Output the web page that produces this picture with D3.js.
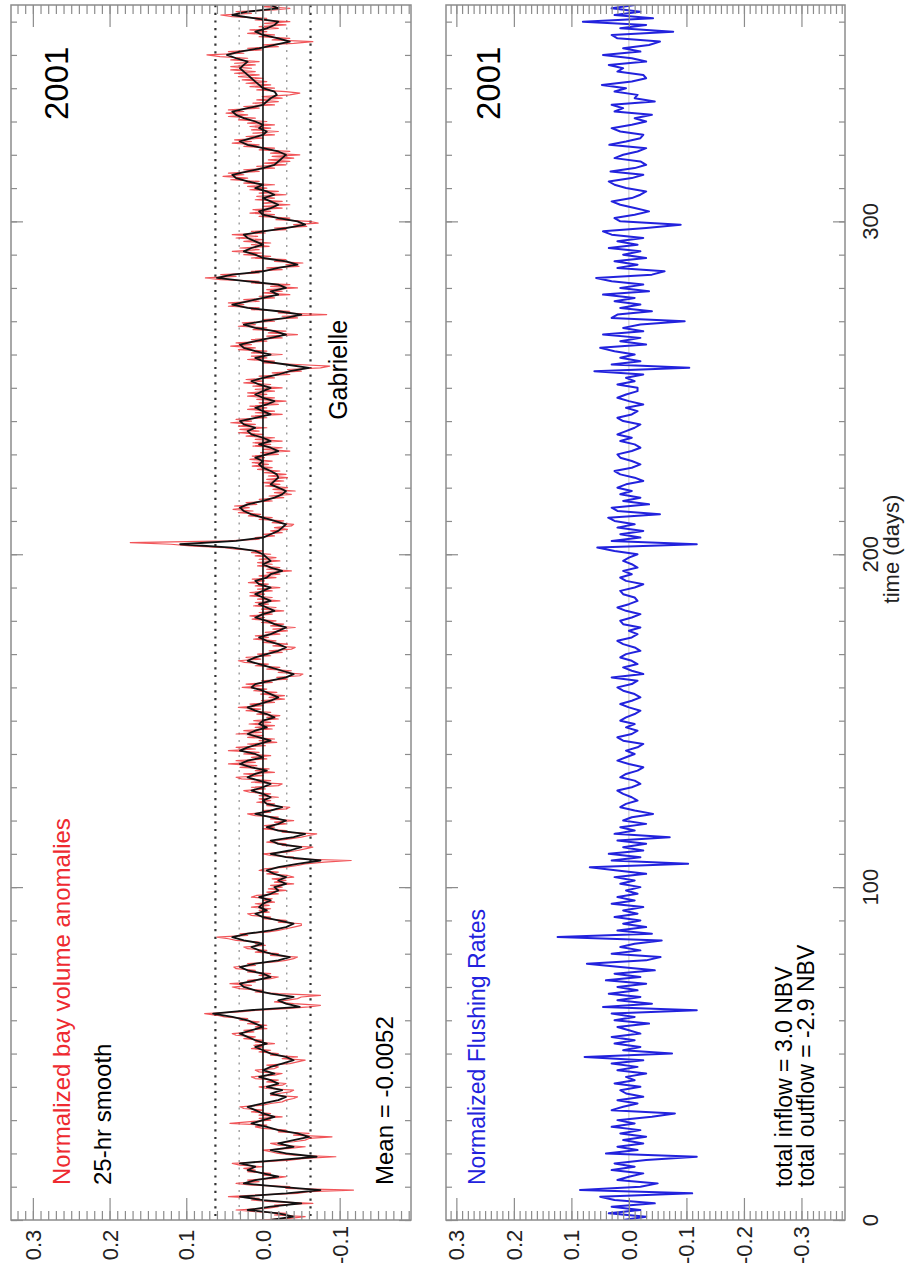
<!DOCTYPE html>
<html>
<head>
<meta charset="utf-8">
<script src="https://cdn.jsdelivr.net/npm/d3@7"></script>
<style>
  html, body { margin: 0; padding: 0; background: #fff; }
  svg { display: block; }
</style>
</head>
<body>
<svg id="chart" width="912" height="1274"></svg>
<script>
// ---------------------------------------------------------------------------
// Data (series values are stored in units of 0.001 NBV)
// ---------------------------------------------------------------------------
const MILLI = 0.001;
const year = "2001";

// 25-hr smoothed bay volume anomaly, one value per day starting at day 0
const volumeSmooth = [
  -10,-40,-20,20,-10,-50,0,30,-30,-75,
  -20,25,10,-20,0,20,10,30,-20,-70,
  -30,-10,-40,-20,-40,-60,-45,-20,-5,15,
  0,-15,0,10,20,0,-20,-30,-10,-25,
  -5,-20,-10,5,-15,0,-10,-25,-40,-30,
  -10,0,10,-5,10,20,30,15,0,10,
  20,40,65,20,-48,-30,-20,-40,-10,10,
  25,30,10,-10,0,20,30,10,-20,-35,
  -10,5,15,0,25,40,20,-10,-30,-40,
  -20,0,10,-5,5,0,-10,5,-10,-20,
  -15,-30,-20,-30,-15,-5,-20,-45,-75,-30,
  -10,-35,-50,-20,-10,-40,-55,-20,-5,-20,
  -30,-10,10,-10,-25,-5,0,-10,0,15,
  0,-10,5,20,10,-5,15,30,20,0,
  10,30,20,5,-10,5,20,10,-5,5,
  0,-15,-5,10,20,5,-10,-20,-10,0,
  15,10,-10,-30,-40,-25,-10,5,20,10,
  -5,-20,-30,-20,-5,5,-10,-20,-30,-15,
  -5,10,0,-15,-5,5,-10,0,10,0,
  -10,5,10,-5,-10,-25,-10,0,-10,-5,
  0,10,40,108,35,0,-10,-20,-25,-30,
  -15,0,15,25,30,20,0,-15,-25,-30,
  -20,-10,-15,-20,-18,-10,0,5,0,10,
  -5,-20,-10,5,-10,0,15,20,10,25,
  30,10,-10,0,10,-5,-15,0,10,0,
  -10,5,15,0,-20,-35,-60,-30,0,10,
  -10,10,25,30,10,-10,-30,-15,10,25,
  0,-30,-50,-20,20,40,20,0,-20,-10,
  -30,-20,20,60,40,0,-20,-45,-30,0,
  10,25,15,0,10,20,25,0,-30,-55,
  -45,-20,0,5,-10,-20,-10,0,-15,-5,
  10,0,20,35,40,20,0,-15,-20,-25,
  -30,-20,0,20,30,15,0,-5,5,0,
  10,25,35,40,20,0,-5,-10,-18,-15,
  0,5,10,15,20,25,30,25,20,35,
  47,30,5,-15,-35,-20,0,10,-5,-15,
  -20,10,40,20,-20,-10
];

// Unsmoothed bay volume anomaly, two values per day (every 12 h)
const volumeRaw = [
  5,-35,-55,-15,-30,10,35,-5,-20,-15,-65,-10,15,5,45,10,-45,-60,-118,-30,
  -35,15,35,5,20,-15,-30,0,-10,20,10,25,0,30,40,-5,-35,-55,-95,-40,
  -20,-10,0,-35,-55,-20,-10,-40,-55,-60,-90,-40,-60,-20,-30,0,10,-5,43,20,
  -10,5,-25,5,-10,15,0,25,30,0,-10,-25,-30,-40,-45,-10,-20,-35,-40,-5,
  5,-25,-30,-5,-20,10,15,-15,-25,5,10,-15,-20,-5,-35,-45,-55,-25,-45,-10,
  -20,5,-10,15,0,12,-15,10,0,25,10,35,40,12,25,-5,10,-5,20,5,
  30,20,50,60,76,30,10,-30,-60,-75,-40,-15,-30,-45,-50,-75,-20,10,0,30,
  40,15,43,10,20,-10,-20,5,-10,20,10,35,38,10,20,-15,-30,-40,-45,-10,
  -20,10,-5,20,25,-3,10,5,35,45,60,20,30,-5,-20,-30,-40,-50,-50,-20,
  -30,0,-10,15,20,-8,5,-10,15,-8,10,-15,0,-12,15,8,-20,-5,-30,-7,
  -25,-10,-40,-15,-30,-12,-40,-32,-5,-20,5,-2,-30,-45,-55,-80,-115,-40,-40,-10,
  0,-30,-45,-55,-65,-25,-30,-5,-20,-35,-50,-60,-70,-25,-30,0,-15,-2,-30,-15,
  -40,-10,-20,10,20,-10,0,-30,-35,-5,-15,8,-10,5,-20,5,-10,17,25,-3,
  15,-20,-25,15,-10,28,35,0,25,-15,10,-8,30,8,45,10,35,-5,15,-10,
  25,5,45,10,35,-3,20,-18,5,-15,20,0,35,2,25,-12,10,-15,18,-10,
  12,-20,-5,-22,8,-10,22,3,32,0,17,-15,2,-28,-8,-28,3,-18,12,-5,
  27,0,22,-12,2,-32,-18,-48,-52,-20,-37,-5,-22,10,-7,24,32,3,22,-10,
  7,-25,-8,-37,-42,-13,-32,0,-17,12,-7,10,-22,-3,-32,-13,-42,-10,-27,2,
  -17,14,-2,17,-12,5,-27,2,-17,12,-7,10,-22,7,-12,17,-2,17,-12,7,
  -22,10,-7,19,-2,14,-17,5,-22,-5,-37,-5,-22,7,-12,7,-22,5,-17,10,
  -10,15,0,35,50,95,120,173,45,5,10,-15,0,-25,-10,-32,-15,-37,-40,-12,
  -27,5,-12,19,3,32,13,39,18,37,8,22,-12,5,-27,-8,-37,-15,-42,-13,
  -32,-3,-22,0,-27,-5,-32,-7,-30,-2,-22,7,-12,14,-7,14,-12,17,-2,14,
  -20,3,-35,0,-25,13,-10,13,-25,10,-15,22,0,32,5,30,-5,32,10,42,
  15,35,-5,15,-25,10,-15,20,-5,17,-20,5,-30,8,-15,20,-5,20,-15,10,
  -25,13,-10,25,0,22,-15,5,-35,-12,-50,-32,-75,-87,-45,0,-15,20,-5,15,
  -25,15,-5,32,10,42,15,35,-5,15,-25,-5,-45,-7,-30,13,-5,32,10,27,
  -15,0,-45,-25,-83,-20,-35,15,5,45,25,45,5,25,-15,5,-35,0,-25,-5,
  -45,-10,-35,15,5,55,75,35,55,5,15,-25,-5,-47,-30,-52,-15,-30,15,-10,
  25,2,40,5,30,-8,15,-10,25,0,35,7,40,-3,15,-30,-15,-57,-40,-72,
  -60,-17,-35,5,-15,17,-10,13,-25,0,-35,0,-25,10,-15,8,-30,5,-20,17,
  -5,20,-15,25,5,42,20,52,25,45,5,25,-15,8,-30,-2,-35,-7,-40,-12,
  -48,-10,-35,5,-15,25,5,40,15,37,0,22,-15,13,-20,15,-10,17,-15,20,
  -5,32,10,45,20,48,25,45,5,25,-15,13,-20,8,-25,1,-35,-48,-30,8,
  -15,17,-10,22,-5,27,0,32,5,37,10,42,15,42,10,37,5,42,20,56,
  73,25,45,2,20,-20,0,-40,-65,-12,-35,5,-15,20,-5,17,-20,5,-30,-2,
  -35,10,-5,40,55,15,35,-15,-35,0,-25
];

// Normalized flushing rate, one value per day starting at day 0
const flushing = [
  10,-30,35,-20,30,-45,25,50,-110,85,
  -20,-50,20,0,-25,30,-10,25,-30,-118,
  40,-15,20,-25,10,-30,15,-20,30,-10,
  20,-40,-80,30,10,-15,20,-25,5,15,
  -20,25,-10,5,-30,20,-15,30,-25,77,
  -75,10,-20,25,-10,30,-20,0,20,-35,
  25,-10,30,-118,45,-40,20,-20,35,-15,
  20,-30,40,-20,25,-45,15,73,-30,-55,
  30,-20,15,-10,-57,124,-40,20,-30,10,
  -20,25,-15,10,-25,30,-10,20,-15,5,
  -20,15,-10,25,-30,20,68,-103,30,-20,
  35,-25,10,-30,20,-71,25,-10,15,-30,
  10,-5,-42,-10,15,5,-15,-5,10,20,
  -5,-20,-10,15,5,-15,-25,0,20,5,
  -10,5,-15,-25,10,20,-5,-15,5,-10,
  15,5,-10,-20,0,15,-5,-20,-10,10,
  20,-5,-15,30,-25,-5,10,-15,-5,15,
  5,-20,-10,10,20,-5,-15,0,-20,10,
  15,-5,-20,5,20,0,-15,-10,10,15,
  -10,-25,5,15,-5,10,-15,-5,10,0,
  -15,25,55,-118,30,-20,15,-25,20,-10,
  25,36,-54,20,30,-35,10,-20,15,-5,
  20,5,-25,-10,15,25,-5,-20,-5,15,
  20,-5,-20,-10,15,-5,20,5,-10,-20,
  10,20,-5,-15,5,-25,0,20,5,-15,
  -15,20,-10,5,-25,60,-105,30,-20,15,
  -10,25,50,-30,15,-20,45,-25,10,-20,
  -97,30,20,-40,15,-20,25,-10,45,-35,
  15,-25,30,57,-40,-62,20,-15,25,-30,
  10,-20,35,-15,20,-25,30,45,-30,-90,
  15,25,-10,-35,-10,15,30,-5,-20,-30,
  5,25,35,-5,-25,32,-10,-30,-20,25,
  10,-15,-30,34,5,-20,-25,15,30,-5,
  -30,-10,-40,25,10,30,-45,-10,-15,25,
  5,47,-5,-30,-25,20,10,35,-30,-5,
  45,-20,10,-35,-54,20,30,-77,15,-30,
  80,-42,25,-20,30,-10
];

// Reference levels around zero (one and two standard deviations)
const sigmaLevels = [0.062, 0.031, -0.031, -0.062];
const sigmaStrong = [true, false, false, true];

// Summary numbers printed on the panels
const meanVolume = -0.0052;
const totalInflow = 3.0;
const totalOutflow = -2.9;
const stormName = "Gabrielle";
const stormDay = 256;

// Axis ticks
const valueTicksA = [0.3, 0.2, 0.1, 0.0, -0.1];
const valueTicksB = [0.3, 0.2, 0.1, 0.0, -0.1, -0.2, -0.3];
const timeTicks = [0, 100, 200, 300];
const timeMinorStep = 10;
const valueMinorStep = 0.01;

// ---------------------------------------------------------------------------
// Layout: the figure is printed in landscape, turned a quarter turn.
// Time runs upward, values run right-to-left.
// ---------------------------------------------------------------------------
const FONT = "'Liberation Sans', Arial, Helvetica, sans-serif";
const RED = "#ee2a30";
const BLUE = "#2222dd";
const FRAME = "#8c8c8c";

const svg = d3.select("#chart");
svg.append("rect").attr("width", 912).attr("height", 1274).attr("fill", "#fff");

const panelA = { x0: 11, x1: 411, y0: 5, y1: 1220 };
const panelB = { x0: 446, x1: 845, y0: 5, y1: 1220 };

const tScale = d3.scaleLinear().domain([0, 365]).range([panelA.y1, panelA.y0]);
const vA = d3.scaleLinear().domain([0.3285, -0.193]).range([panelA.x0, panelA.x1]);
const vB = d3.scaleLinear().domain([0.318, -0.3757]).range([panelB.x0, panelB.x1]);

const fmt = v => (Math.abs(v) < 1e-9 ? 0 : v).toFixed(1);

// vertical (rotated) text helper
function vText(g, x, y, str, size, color, anchor) {
  return g.append("text")
    .attr("transform", `translate(${x},${y}) rotate(-90)`)
    .attr("text-anchor", anchor || "start")
    .attr("font-family", FONT)
    .attr("font-size", size)
    .attr("fill", color || "#000")
    .text(str);
}

function clip(id, p) {
  svg.append("clipPath").attr("id", id)
    .append("rect").attr("x", p.x0).attr("y", p.y0)
    .attr("width", p.x1 - p.x0).attr("height", p.y1 - p.y0);
}
clip("clipA", panelA);
clip("clipB", panelB);

function drawAxes(p, v, majors) {
  const g = svg.append("g");
  const [lo, hi] = d3.extent(v.domain());
  const minors = d3.range(-40, 41).map(k => +(k * valueMinorStep).toFixed(2))
    .filter(x => x >= lo && x <= hi);
  const days = d3.range(0, 366, timeMinorStep);
  const style = s => {
    s.select(".domain").remove();
    s.selectAll("line").attr("stroke", FRAME).attr("stroke-width", 1.2);
  };
  const add = (gen, tr) => g.append("g").attr("transform", tr).call(gen).call(style);

  add(d3.axisBottom(v).tickValues(minors).tickSize(-9).tickFormat(""), `translate(0,${p.y1})`);
  add(d3.axisBottom(v).tickValues(majors).tickSize(-22).tickFormat(""), `translate(0,${p.y1})`);
  add(d3.axisTop(v).tickValues(minors).tickSize(-9).tickFormat(""), `translate(0,${p.y0})`);
  add(d3.axisTop(v).tickValues(majors).tickSize(-22).tickFormat(""), `translate(0,${p.y0})`);
  add(d3.axisRight(tScale).tickValues(days).tickSize(6).tickFormat(""), `translate(${p.x0},0)`);
  add(d3.axisRight(tScale).tickValues(timeTicks).tickSize(12).tickFormat(""), `translate(${p.x0},0)`);
  add(d3.axisLeft(tScale).tickValues(days).tickSize(6).tickFormat(""), `translate(${p.x1},0)`);
  add(d3.axisLeft(tScale).tickValues(timeTicks).tickSize(12).tickFormat(""), `translate(${p.x1},0)`);

  g.append("rect")
    .attr("x", p.x0).attr("y", p.y0)
    .attr("width", p.x1 - p.x0).attr("height", p.y1 - p.y0)
    .attr("fill", "none").attr("stroke", FRAME).attr("stroke-width", 1.5);

  // value tick labels below the frame
  majors.forEach(m => {
    vText(g, v(m) + 8, 1245, fmt(m), 22, "#222", "middle");
  });
}

// ---------------------------------------------------------------------------
// Panel A: bay volume anomalies
// ---------------------------------------------------------------------------
const gA = svg.append("g");
const plotA = gA.append("g").attr("clip-path", "url(#clipA)");

sigmaLevels.forEach((lvl, i) => {
  plotA.append("line")
    .attr("x1", vA(lvl)).attr("x2", vA(lvl))
    .attr("y1", panelA.y0).attr("y2", panelA.y1)
    .attr("stroke", sigmaStrong[i] ? "#333" : "#9a9a9a")
    .attr("stroke-width", sigmaStrong[i] ? 2.2 : 1.4)
    .attr("stroke-dasharray", sigmaStrong[i] ? "2.2,5.5" : "2,5.5");
});

const rawPts = volumeRaw.map((v, i) => ({ t: i / 2, v: v * MILLI }));
const smoothPts = volumeSmooth.map((v, i) => ({ t: i, v: v * MILLI }));

const lineA = d3.line().x(d => vA(d.v)).y(d => tScale(d.t));

plotA.append("path").datum(rawPts)
  .attr("d", lineA).attr("fill", "none")
  .attr("stroke", RED).attr("stroke-width", 1.2).attr("stroke-opacity", 0.8)
  .attr("stroke-linejoin", "round");

plotA.append("line")
  .attr("x1", vA(0)).attr("x2", vA(0))
  .attr("y1", panelA.y0).attr("y2", panelA.y1)
  .attr("stroke", "#111").attr("stroke-width", 1.6);

plotA.append("path").datum(smoothPts)
  .attr("d", lineA).attr("fill", "none")
  .attr("stroke", "#111").attr("stroke-width", 1.8)
  .attr("stroke-linejoin", "round");

drawAxes(panelA, vA, valueTicksA);

vText(gA, 68, 120, year, 33);
vText(gA, 70, 1185, "Normalized bay volume anomalies", 24, RED);
vText(gA, 111, 1185, "25-hr smooth", 24);
vText(gA, 393, 1185, `Mean = ${meanVolume.toFixed(4)}`, 24);
vText(gA, 347, tScale(stormDay) + 52, stormName, 25);

// ---------------------------------------------------------------------------
// Panel B: flushing rates
// ---------------------------------------------------------------------------
const gB = svg.append("g");
const plotB = gB.append("g").attr("clip-path", "url(#clipB)");

plotB.append("line")
  .attr("x1", vB(0)).attr("x2", vB(0))
  .attr("y1", panelB.y0).attr("y2", panelB.y1)
  .attr("stroke", "#c4c4c4").attr("stroke-width", 1);

const flushPts = flushing.map((v, i) => ({ t: i, v: v * MILLI }));
plotB.append("path").datum(flushPts)
  .attr("d", d3.line().x(d => vB(d.v)).y(d => tScale(d.t)))
  .attr("fill", "none").attr("stroke", BLUE).attr("stroke-width", 2)
  .attr("stroke-linejoin", "round");

drawAxes(panelB, vB, valueTicksB);

vText(gB, 500, 120, year, 33);
vText(gB, 485, 1185, "Normalized Flushing Rates", 23, BLUE);
vText(gB, 792, 1187, `total inflow = ${totalInflow.toFixed(1)} NBV`, 23);
vText(gB, 814, 1187, `total outflow = ${totalOutflow.toFixed(1)} NBV`, 23);

// time axis labels along the right side
timeTicks.forEach(d => {
  vText(svg, 878, tScale(d), String(d), 22, "#222", "middle");
});
vText(svg, 899, 549, "time (days)", 22, "#222", "middle");
</script>
</body>
</html>
